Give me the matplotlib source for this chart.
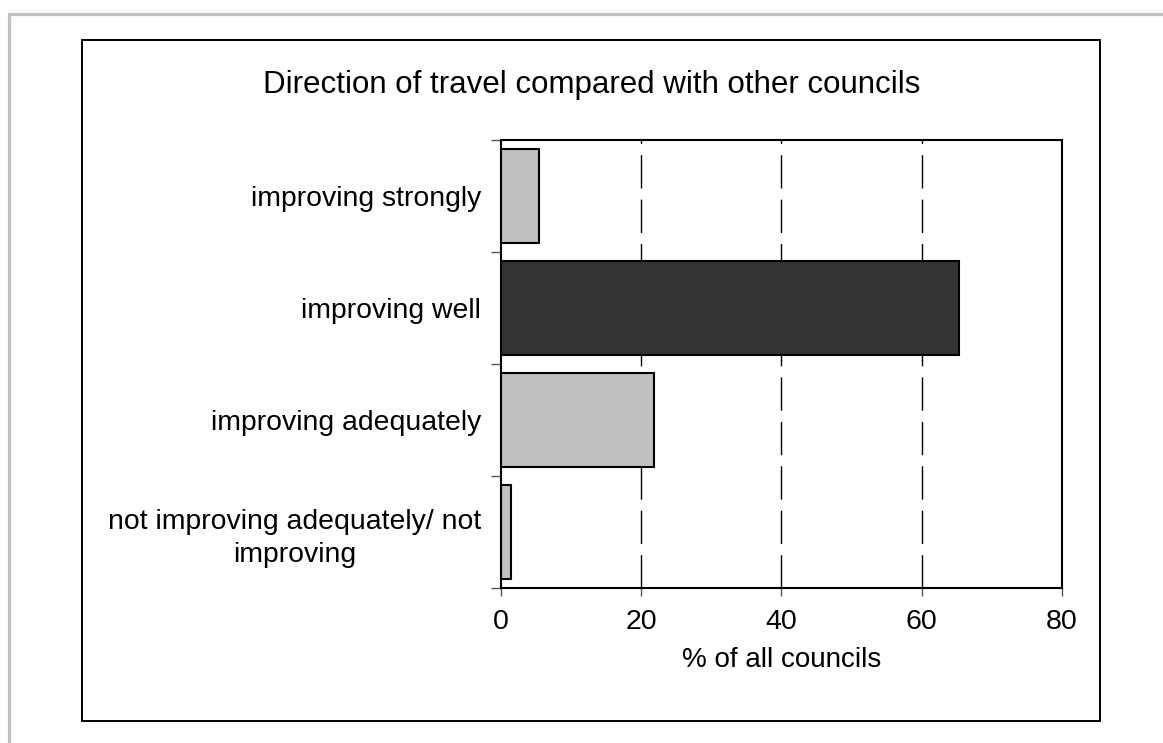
import matplotlib
matplotlib.use("Agg")
import matplotlib.pyplot as plt
from matplotlib.patches import Rectangle

plt.rcParams['font.family'] = ['Liberation Sans', 'DejaVu Sans']

categories = ["improving strongly", "improving well", "improving adequately",
              "not improving adequately/ not\nimproving"]
values = [5.4, 65.3, 21.9, 1.5]
bar_colors = ["#c0c0c0", "#333333", "#c0c0c0", "#c0c0c0"]
x_ticks = [0, 20, 40, 60, 80]
title = "Direction of travel compared with other councils"
x_label = "% of all councils"

W, H = 1163, 743
fig = plt.figure(figsize=(W / 100, H / 100), dpi=100)
fig.patch.set_facecolor("white")

# outer grey frame (left & top visible, runs off right/bottom)
fig.add_artist(Rectangle((8.5 / W, -0.1), 1.2, (H - 13.5) / H + 0.1,
                         transform=fig.transFigure, fill=False,
                         edgecolor="#c0c0c0", linewidth=2.3))
# inner black chart frame
fig.add_artist(Rectangle((82 / W, 1 - 721 / H), (1100 - 82) / W, (721 - 40) / H,
                         transform=fig.transFigure, fill=False,
                         edgecolor="black", linewidth=1.4))

ax = fig.add_axes([500.7 / W, 1 - 588 / H, (1062 - 500.7) / W, (588 - 140) / H])
y = list(range(len(categories)))
ax.barh(y, values, height=0.84, color=bar_colors, edgecolor="black",
        linewidth=1.5, zorder=3)
ax.set_ylim(len(categories) - 0.5, -0.5)
ax.set_xlim(0, 80)
ax.set_xticks(x_ticks)
ax.set_xticklabels([str(t) for t in x_ticks], fontsize=20.5)
ax.set_yticks([i - 0.5 for i in range(len(categories) + 1)], minor=False)
ax.set_yticklabels([])
ax.set_yticks(y, minor=True)
ax.set_yticklabels(categories, minor=True, fontsize=20.4, ha="right",
                   multialignment="center", linespacing=1.35)
ax.tick_params(axis="y", which="minor", length=0, pad=14)
ax.tick_params(axis="y", which="major", length=7, width=1, color="#555555",
               direction="out")
ax.tick_params(axis="x", length=6, width=1, color="#555555", pad=9)
for xv in x_ticks[1:-1]:
    ax.axvline(xv, color="black", linewidth=1, linestyle=(0, (24, 8)), zorder=1)
for s in ax.spines.values():
    s.set_linewidth(1.5)
    s.set_color("black")
ax.set_xlabel(x_label, fontsize=20, labelpad=9)
fig.text(592 / W, 1 - 85 / H, title, fontsize=22.5, ha="center", va="center")

fig.savefig("out.png", dpi=100, facecolor="white")
